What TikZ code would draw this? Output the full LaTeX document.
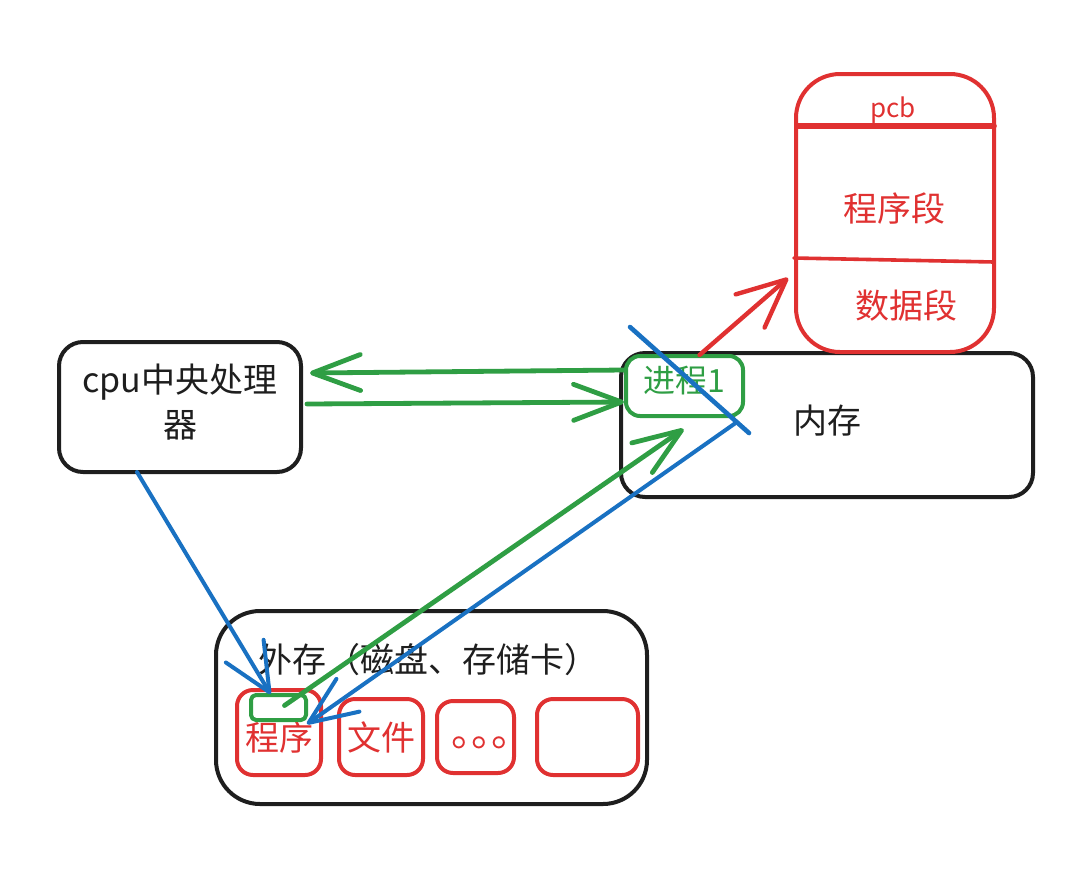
\documentclass[tikz,border=0pt]{standalone}
\usepackage{fontspec}
\setmainfont{Noto Sans CJK SC}
\usetikzlibrary{positioning, arrows.meta}
\definecolor{inkblack}{HTML}{1E1E1E}
\definecolor{inkred}{HTML}{E03131}
\definecolor{inkgreen}{HTML}{2F9E44}
\definecolor{inkblue}{HTML}{1971C2}

\begin{document}
\begin{tikzpicture} [x=1pt, y=-1pt, node distance = 0pt and 16pt, line join=round, line cap=round,
    txt/.style={font=\fontsize{34}{45}\selectfont, inner sep=0pt, align=center},
    box/.style={draw=inkblack, line width=4pt, rectangle, rounded corners=#1, txt, text=inkblack},
    box/.default=24pt,
    redbox/.style={box=#1, draw=inkred, text=inkred},
    redbox/.default=16pt,
    greenbox/.style={box=#1, draw=inkgreen, text=inkgreen},
    greenbox/.default=14pt,
    arrow/.style={-{Straight Barb[length=48pt, width=#1, round]}},
    arrow/.default=40pt,
    greenarrow/.style={arrow=#1, draw=inkgreen, line width=4.8pt},
    greenarrow/.default=36pt,
    bluearrow/.style={arrow=#1, draw=inkblue, line width=4pt},
    bluearrow/.default=44pt,
    redarrow/.style={arrow=44pt, draw=inkred, line width=4.4pt}]
        \useasboundingbox (0,0) rectangle (1074,871);

        % Nodes
        \node[box, minimum width=242pt, minimum height=130pt] (cpu) at (180,407) {};
        \node[txt, text=inkblack] (cpuname) at (180,402) {cpu中央处理\\器};
        \node[box, minimum width=412pt, minimum height=144pt] (mem) at (827,425) {};
        \node[txt, text=inkblack] (memname) at (827,421) {内存};
        \node[greenbox, minimum width=117pt, minimum height=60pt] (proc) at (684.5,386) {};
        \node[txt, text=inkgreen, font=\fontsize{32}{45}\selectfont] (procname) at (684,381) {进程1};
        \node[redbox=44pt, minimum width=198pt, minimum height=278pt] (pcb) at (895,213) {};
        \node[txt, text=inkred, font=\fontsize{26}{30}\selectfont] (pcbname) at (893,110) {pcb};
        \node[txt, text=inkred] (codeseg) at (894,209) {程序段};
        \node[txt, text=inkred] (dataseg) at (906,306) {数据段};

        \node[box=44pt, minimum width=431pt, minimum height=193pt] (disk) at (431.5,707.5) {};
        \node[txt, text=inkblack] (diskname) at (428,660) {外存（磁盘、存储卡）};
        \node[redbox, minimum width=84pt, minimum height=85pt] (prog) at (279,732.5) {};
        \node[txt, text=inkred] (progname) at (279,738) {程序};
        \node[redbox, minimum width=84pt, minimum height=76pt] (file) at (381,737) {文件};
        \node[redbox, minimum width=77pt, minimum height=72pt, right=10pt of file] (more) {};
        \node[txt, text=inkred, font=\fontsize{40}{44}\selectfont] (dots) at (491,743) {。\hspace{-20pt}。\hspace{-20pt}。};
        \node[redbox, minimum width=101pt, minimum height=76pt, right=19pt of more] (blank) {};
        \node[greenbox=5pt, minimum width=55pt, minimum height=25pt] (slot) at (278.5,707.5) {};

        % Section lines
        \draw[draw=inkred, line width=5.6pt] ([shift={(4,54)}]pcb.north west) -- ([shift={(-2,54)}]pcb.north east);
        \draw[draw=inkred, line width=3.6pt] ([shift={(0,186)}]pcb.north west) -- ([shift={(-2,190)}]pcb.north east);

        % Crossing out
        \coordinate (crossa) at (630,327);
        \coordinate (crossb) at (749,433);
        \draw[draw=inkblue, line width=4.6pt] (crossa) -- (crossb);

        % Arrows
        \draw[greenarrow] ([shift={(0,-16)}]proc.west) -- ([shift={(7,-34)}]cpu.east);
        \draw[greenarrow] ([shift={(4,-3)}]cpu.east) -- ([shift={(0,16)}]proc.west);
        \draw[bluearrow] ([shift={(-43,-2)}]cpu.south) -- ([shift={(-8,1)}]slot.north);
        \draw[greenarrow] ([shift={(6,-2)}]slot.center) -- ([shift={(-1,11)}]proc.south);
        \draw[bluearrow=40pt] ([shift={(-8,4)}]proc.south east) -- ([shift={(-1,2)}]slot.south east);
        \draw[redarrow] ([shift={(15,1)}]proc.north) -- ([shift={(-6,65)}]pcb.west);
    \end{tikzpicture}
\end{document}
